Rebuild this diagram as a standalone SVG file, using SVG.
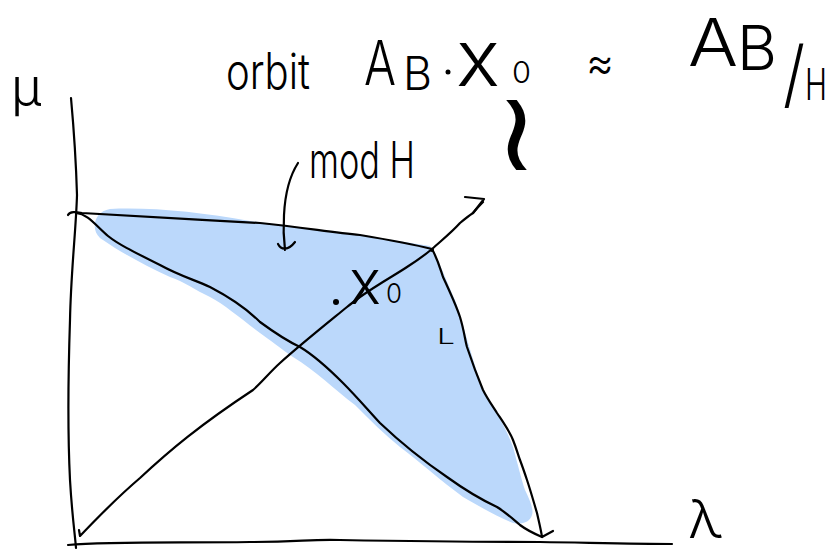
<svg xmlns="http://www.w3.org/2000/svg" width="838" height="550" viewBox="0 0 838 550">
<style>
.ln{fill:none;stroke:#000;stroke-width:2.2;stroke-linecap:round;stroke-linejoin:round}
.tx{font-family:"Inter","Liberation Sans","DejaVu Sans",sans-serif;font-weight:300;fill:#000}
</style>
<rect width="838" height="550" fill="#fff"/>
<g id="region">
<path d="M100,238 C91,230 93,212 110,209 C150,207 200,212 250,221 C320,230 380,238 430,246 C440,262 448,285 455,300 C462,320 468,345 483,390 C492,405 505,425 513,447 C518,465 521,478 525,490 C530,500 534,510 532,515 C530,522 522,525 513,523 C500,518 480,507 463,497 C440,480 420,462 400,447 C385,435 370,420 355,405 C335,390 315,370 293,357 C280,348 270,340 260,333 C240,318 225,305 210,297 C195,290 185,282 170,277 C150,268 130,257 115,248 Z" fill="#bbd8fb"/>
</g>
<g id="axes">
<path class="ln" d="M71,98 C73,120 76,160 77,195 C76,230 71,270 70,320 C68,380 68,440 70,480 C72,515 75,535 76,548"/>
<path class="ln" d="M68,545 C110,541 180,543 250,542 C300,542 310,539 340,540 C400,541 470,542 540,542 C600,543 640,544 672,544"/>
</g>
<g id="connectors">
<path class="ln" d="M68,215 C70,211 76,212 82,213 C120,215 200,220 260,223 C300,227 330,232 360,235 C390,240 412,244 432,249"/>
<path class="ln" d="M432,249 C438,260 440,268 443,277 C450,292 456,305 460,317 C464,330 465,340 467,347 C473,365 478,378 483,390 C488,400 494,408 497,413 C505,425 510,432 513,440 C517,450 518,455 520,460 C523,468 525,474 527,480 C531,492 534,503 537,513 C539,522 541,530 542,537 L553,531"/>
<path class="ln" d="M76,213 C88,214 96,226 108,236 C118,244 130,250 160,265 C180,276 195,280 210,287 C235,300 250,312 260,322 C275,333 285,340 300,347 C315,356 330,370 343,383 C356,396 368,410 380,423 C400,442 425,462 447,477 C465,490 482,500 497,507 C508,514 514,520 520,525 C528,531 535,534 542,537"/>
<path class="ln" d="M79,530 L80,536 C100,515 120,495 140,478 C170,450 200,425 253,390 C262,382 270,372 280,363 C300,345 325,325 347,307 C352,303 356,300 360,297 C380,283 395,275 407,267 C418,260 426,254 432,249 C442,240 452,232 460,223 C466,218 470,215 473,213 C477,208 480,205 483,202"/>
<path class="ln" d="M465,197 L484,199 L473,213"/>
<circle cx="432" cy="250" r="2" fill="#000"/>
<path class="ln" d="M298,163 C289,177 285,195 284,215 C283,230 284,242 285,250 M278,244 C281,250 288,251 295,242"/>
</g>
<g id="labels">
<text class="tx" x="11" y="106" font-size="52">μ</text>
<text class="tx" x="226" y="89" font-size="50" textLength="84" lengthAdjust="spacingAndGlyphs">orbit</text>
<text class="tx" x="364" y="85" font-size="62" textLength="32" lengthAdjust="spacingAndGlyphs">A</text>
<text class="tx" x="403" y="90" font-size="46" textLength="29" lengthAdjust="spacingAndGlyphs">B</text>
<circle cx="448" cy="72" r="2.5" fill="#000"/>
<text class="tx" x="456" y="86" font-size="78" textLength="44" lengthAdjust="spacingAndGlyphs">x</text>
<text class="tx" x="512" y="83" font-size="30" textLength="19" lengthAdjust="spacingAndGlyphs">0</text>
<text class="tx" x="586" y="79" font-size="48" textLength="28" lengthAdjust="spacingAndGlyphs">≈</text>
<text class="tx" x="688" y="66" font-size="66" textLength="50" lengthAdjust="spacingAndGlyphs">A</text>
<text class="tx" x="737" y="70" font-size="62" textLength="40" lengthAdjust="spacingAndGlyphs">B</text>
<text class="tx" x="783" y="100" font-size="74" textLength="22" lengthAdjust="spacingAndGlyphs">/</text>
<text class="tx" x="805" y="100" font-size="44" textLength="22" lengthAdjust="spacingAndGlyphs">H</text>
<text class="tx" x="309" y="178" font-size="50" textLength="106" lengthAdjust="spacingAndGlyphs">mod H</text>
<text class="tx" x="0" y="0" font-size="80" font-weight="200" transform="translate(494,170) scale(1.5,1.4)">≀</text>
<circle cx="336" cy="302" r="3" fill="#000"/>
<text class="tx" x="349" y="304" font-size="62" textLength="32" lengthAdjust="spacingAndGlyphs">x</text>
<text class="tx" x="386" y="303" font-size="27" textLength="16" lengthAdjust="spacingAndGlyphs">0</text>
<text class="tx" x="437" y="344" font-size="22" textLength="18" lengthAdjust="spacingAndGlyphs">L</text>
<text class="tx" x="688" y="538" font-size="54">λ</text>
</g>
</svg>
